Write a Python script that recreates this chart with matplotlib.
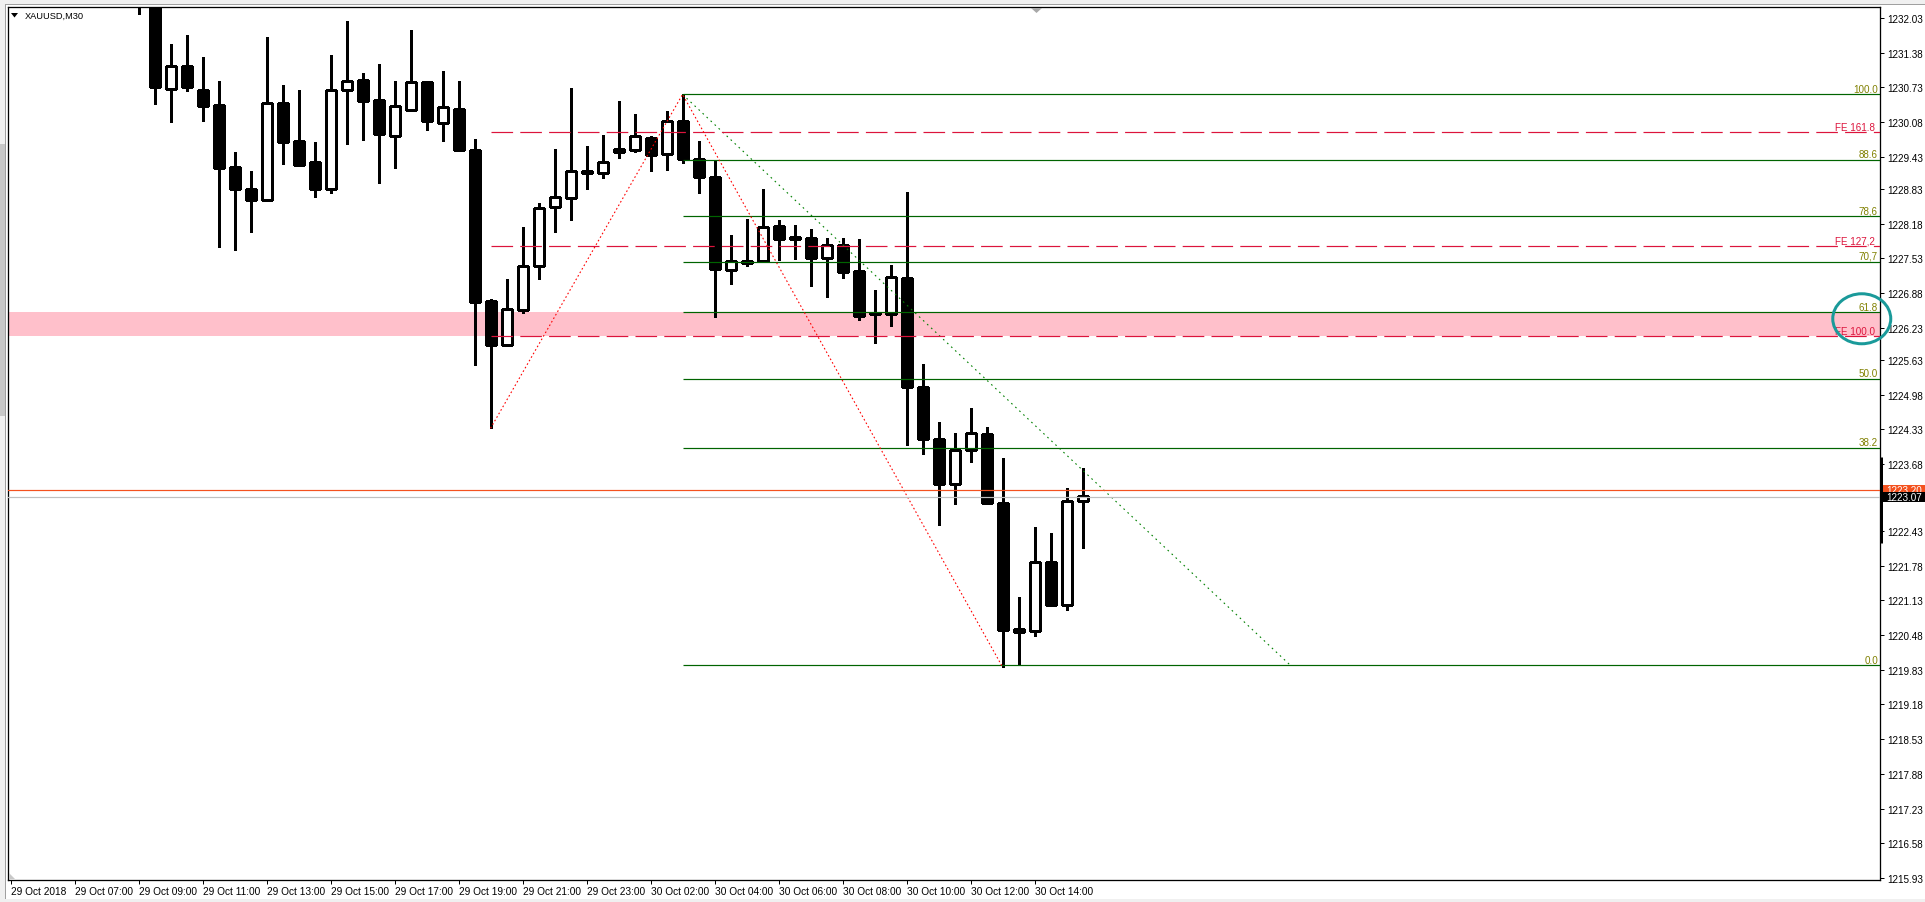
import numpy as np
import matplotlib.pyplot as plt
import matplotlib.transforms as mtransforms
from matplotlib.patches import Ellipse, Rectangle, Polygon

plt.rcParams['font.family'] = ['Liberation Sans', 'DejaVu Sans']
plt.rcParams['font.size'] = 7.1

W, H, DPI = 1925, 903, 100
PX = 72.0 / DPI  # one pixel in points

# XAUUSD M30 candles, bar 0 = 29 Oct 05:00 (left edge); bars 0-7 lie above the visible range
bars = list(range(8, 68))
opens = [1232.70, 1232.60, 1230.70, 1231.14, 1230.68, 1230.40, 1229.24, 1228.83, 1228.63, 1230.43,
         1229.73, 1229.33, 1228.82, 1230.68, 1230.87, 1230.50, 1229.83, 1230.30, 1230.83, 1230.06,
         1230.33, 1229.56, 1226.74, 1225.91, 1226.57, 1227.38, 1228.49, 1228.66, 1229.16, 1229.12,
         1229.58, 1229.55, 1229.78, 1229.48, 1230.11, 1229.40, 1229.05, 1227.31, 1227.45, 1227.48,
         1228.14, 1227.91, 1227.91, 1227.54, 1227.79, 1227.29, 1226.51, 1226.48, 1227.16, 1225.13,
         1224.15, 1223.31, 1223.94, 1224.24, 1222.95, 1220.54, 1220.56, 1221.84, 1221.05, 1222.98]
highs = [1233.10, 1232.80, 1231.54, 1231.71, 1231.30, 1230.85, 1229.52, 1229.17, 1231.67, 1230.78,
         1230.68, 1229.71, 1231.34, 1231.97, 1231.00, 1231.17, 1230.85, 1231.81, 1230.85, 1231.04,
         1230.85, 1229.77, 1226.77, 1227.14, 1228.12, 1228.57, 1229.58, 1230.72, 1229.63, 1229.84,
         1230.48, 1230.23, 1229.82, 1230.29, 1230.60, 1229.73, 1229.38, 1227.97, 1228.27, 1228.83,
         1228.25, 1228.16, 1228.08, 1227.91, 1227.91, 1227.89, 1226.94, 1227.41, 1228.77, 1225.55,
         1224.47, 1224.26, 1224.73, 1224.37, 1223.79, 1221.19, 1222.50, 1222.39, 1223.23, 1223.61]
lows = [1232.10, 1230.42, 1230.09, 1230.67, 1230.11, 1227.75, 1227.69, 1228.03, 1228.63, 1229.30,
        1229.27, 1228.67, 1228.76, 1229.68, 1229.75, 1228.95, 1229.23, 1230.28, 1229.94, 1229.73,
        1229.55, 1225.54, 1224.35, 1225.91, 1226.51, 1227.14, 1228.03, 1228.25, 1228.82, 1229.04,
        1229.41, 1229.53, 1229.17, 1229.19, 1229.32, 1228.76, 1226.44, 1227.06, 1227.39, 1227.48,
        1227.50, 1227.52, 1227.02, 1226.81, 1227.17, 1226.38, 1225.95, 1226.27, 1224.04, 1223.86,
        1222.54, 1222.94, 1223.72, 1222.93, 1219.88, 1219.92, 1220.47, 1221.05, 1220.95, 1222.10]
closes = [1232.60, 1230.73, 1231.14, 1230.74, 1230.39, 1229.23, 1228.82, 1228.63, 1230.43, 1229.70,
          1229.28, 1228.82, 1230.68, 1230.85, 1230.48, 1229.85, 1230.38, 1230.83, 1230.11, 1230.36,
          1229.55, 1226.72, 1225.91, 1226.58, 1227.38, 1228.47, 1228.67, 1229.16, 1229.12, 1229.33,
          1229.53, 1229.82, 1229.47, 1230.11, 1229.40, 1229.06, 1227.33, 1227.48, 1227.47, 1228.11,
          1227.90, 1227.90, 1227.54, 1227.79, 1227.28, 1226.46, 1226.48, 1227.18, 1225.13, 1224.14,
          1223.31, 1223.94, 1224.26, 1222.95, 1220.58, 1220.59, 1221.84, 1221.05, 1222.98, 1223.09]

x_ticks = [0, 4, 8, 12, 16, 20, 24, 28, 32, 36, 40, 44, 48, 52, 56, 60, 64]
x_labels = ['29 Oct 2018', '29 Oct 07:00', '29 Oct 09:00', '29 Oct 11:00', '29 Oct 13:00',
            '29 Oct 15:00', '29 Oct 17:00', '29 Oct 19:00', '29 Oct 21:00', '29 Oct 23:00',
            '30 Oct 02:00', '30 Oct 04:00', '30 Oct 06:00', '30 Oct 08:00', '30 Oct 10:00',
            '30 Oct 12:00', '30 Oct 14:00']
y_ticks = [1232.03, 1231.38, 1230.73, 1230.08, 1229.43, 1228.83, 1228.18, 1227.53, 1226.88,
           1226.23, 1225.63, 1224.98, 1224.33, 1223.68, 1222.43, 1221.78, 1221.13, 1220.48,
           1219.83, 1219.18, 1218.53, 1217.88, 1217.23, 1216.58, 1215.93]

# Fibonacci retracement (from bar 42 high to bar 80 anchor)
fibo_labels = ['100.0', '88.6', '78,6', '70,7', '61.8', '50.0', '38.2', '0.0']
fibo_prices = [1230.60, 1229.38, 1228.32, 1227.47, 1226.52, 1225.27, 1223.99, 1219.91]
fibo_start = 42
fibo_diag_bars = [42, 80]
fibo_diag_prices = [1230.60, 1219.91]

# Fibonacci expansion
fe_labels = ['FE 161.8', 'FE 127,2', 'FE 100.0']
fe_prices = [1229.89, 1227.76, 1226.07]
fe_start = 30
zigzag_bars = [30, 42, 62]
zigzag_prices = [1224.35, 1230.60, 1219.88]

zone_low, zone_high = 1226.07, 1226.52
ask_price = 1223.20
bid_price = 1223.07
range_bar = (1223.81, 1222.20)

fig = plt.figure(figsize=(W / DPI, H / DPI), dpi=DPI, facecolor='white')
ax = fig.add_axes([7.5 / W, 1 - 881 / H, (1880 - 7.5) / W, (881 - 8) / H])
ax.set_xlim(-0.19, 116.84)
ax.set_ylim(1215.894, 1232.236)
XMAX = 116.84

# zone rectangle (background)
ax.axhspan(zone_low, zone_high, color='#FFC0CB', lw=0, zorder=1)

# candles
o = np.array(opens); c = np.array(closes)
bottoms = np.minimum(o, c)
heights = np.maximum(np.abs(c - o), 0.035)
faces = ['white' if cc > oo else 'black' for oo, cc in zip(opens, closes)]
ax.vlines(bars, lows, highs, color='black', lw=PX * 1.1, zorder=3, antialiased=False)
ax.bar(bars, heights, 0.62, bottoms, color=faces, edgecolor='black', lw=PX * 1.1,
       zorder=4, antialiased=False)

# fibo retracement
ax.hlines(fibo_prices, fibo_start, XMAX, color='#006400', lw=PX * 1.2, zorder=5)
ax.plot(fibo_diag_bars, fibo_diag_prices, color='#008000', lw=PX * 1.1,
        dashes=(1.5, 3.5), zorder=5)
blend = mtransforms.blended_transform_factory(ax.transAxes, ax.transData)
for lab, p in zip(fibo_labels, fibo_prices):
    ax.text(0.9989, p + 0.05, lab, transform=blend, ha='right', va='baseline',
            color='#808000', zorder=6)

# fibo expansion
for p in fe_prices:
    ax.plot([fe_start, XMAX], [p, p], color='#DC143C', lw=PX * 1.2, dashes=(18, 6), zorder=5)
for lab, p in zip(fe_labels, fe_prices):
    ax.text(0.9973, p + 0.05, lab, transform=blend, ha='right', va='baseline',
            color='#DC143C', zorder=6)
ax.plot(zigzag_bars, zigzag_prices, color='#FF0000', lw=PX * 1.1, dashes=(1.5, 2.2), zorder=5)

# ask / bid lines
ax.axhline(bid_price, color='#C0C0C0', lw=PX * 1.2, zorder=5)
ax.axhline(ask_price, color='#F4511E', lw=PX * 1.2, zorder=5)

# axes styling
for s in ax.spines.values():
    s.set_linewidth(PX * 1.3)
    s.set_color('black')
ax.yaxis.tick_right()
ax.set_yticks(y_ticks)
ax.set_yticklabels(['%.2f' % v for v in y_ticks])
ax.set_xticks(x_ticks)
ax.set_xticklabels(x_labels)
for lab in ax.get_xticklabels():
    lab.set_ha('left')
ax.tick_params(axis='y', direction='out', length=4 * PX, width=PX, pad=3 * PX, labelsize=7.1)
ax.tick_params(axis='x', direction='out', length=4 * PX, width=PX, pad=2 * PX, labelsize=7.3)

# price tags on the axis
tag_x = 1 + 2 / 1872.5
tag_w = 45 / 1872.5
tag_h = 10 / 53.42
ax.add_patch(Rectangle((tag_x, ask_price - tag_h / 2), tag_w, tag_h, transform=blend,
                       facecolor='#F4511E', edgecolor='none', clip_on=False, zorder=7))
ax.text(tag_x + 4 / 1872.5, ask_price, '%.2f' % ask_price, transform=blend, ha='left',
        va='center', color='white', clip_on=False, zorder=8)
ax.add_patch(Rectangle((tag_x, bid_price - tag_h / 2), tag_w, tag_h, transform=blend,
                       facecolor='black', edgecolor='none', clip_on=False, zorder=9))
ax.text(tag_x + 4 / 1872.5, bid_price, '%.2f' % bid_price, transform=blend, ha='left',
        va='center', color='white', clip_on=False, zorder=10)
ax.plot([1 + 1 / 1872.5] * 2, list(range_bar), transform=blend, color='black', lw=3 * PX,
        solid_capstyle='butt', clip_on=False, zorder=9)

# hand-drawn highlight circle
ax.add_patch(Ellipse((115.7, 1226.40), 3.625, 0.936, fill=False, edgecolor='#1A9A9A',
                     lw=3 * PX, clip_on=False, zorder=12))

# window chrome (pixel coords, origin top-left)
ident = mtransforms.IdentityTransform()


def px_rect(x0, y0, x1, y1, color):
    fig.patches.append(Rectangle((x0, H - y1), x1 - x0, y1 - y0, transform=ident,
                                 facecolor=color, edgecolor='none', zorder=0))


px_rect(0, 0, W, 5, '#F0F0F0')
px_rect(0, 5, W, 6, '#A0A0A0')
px_rect(0, 0, 5, H, '#F0F0F0')
px_rect(0, 145, 5, 417, '#C8C8C8')
px_rect(5, 6, 6, 900, '#A0A0A0')
px_rect(0, 900, W, H, '#F0F0F0')
fig.patches.append(Polygon([(1031, H - 9), (1042, H - 9), (1036.5, H - 14)], closed=True,
                           transform=ident, facecolor='#A8A8A8', edgecolor='none', zorder=5))
fig.patches.append(Polygon([(9, H - 874), (9, H - 880), (15, H - 880)], closed=True,
                           transform=ident, facecolor='#C8C8C8', edgecolor='none', zorder=5))
fig.patches.append(Polygon([(11, H - 14), (18, H - 14), (14.5, H - 18.5)], closed=True,
                           transform=ident, facecolor='black', edgecolor='none', zorder=5))
fig.text(24.5 / W, 1 - 16.5 / H, 'XAUUSD,M30', ha='left', va='center', fontsize=6.7, color='black')

fig.savefig('out.png', dpi=DPI, facecolor='white')
